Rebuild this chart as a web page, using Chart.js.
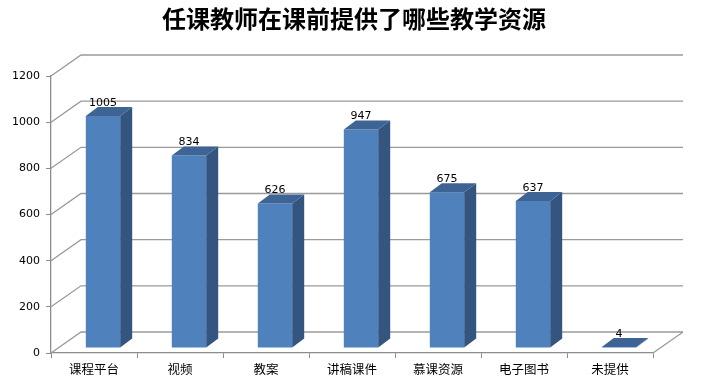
<!DOCTYPE html>
<html>
<head>
<meta charset="utf-8">
<script src="https://cdn.jsdelivr.net/npm/chart.js@4/dist/chart.umd.min.js"></script>
<style>
  html, body { margin: 0; padding: 0; background: #fff; }
  #wrap { width: 708px; height: 381px; }
</style>
</head>
<body>
<div id="wrap"><canvas id="grafico"></canvas></div>
<script>
const categorias = ["课程平台", "视频", "教案", "讲稿课件", "慕课资源", "电子图书", "未提供"];
const valores = [1005, 834, 626, 947, 675, 637, 4];
const titulo = "任课教师在课前提供了哪些教学资源";

// profundidade do "3D" (parede de fundo) e deslocamento das barras
const fundo = { dx: 30, dy: -21 };
const barraDesloc = { dx: 9, dy: -5 };
const lado = { dx: 12, dy: -9 };

const efeito3d = {
  id: "efeito3d",
  beforeDatasetsDraw(chart) {
    const { ctx, chartArea } = chart;
    const y = chart.scales.y;
    ctx.save();
    ctx.strokeStyle = "#9a9a9a";
    ctx.lineWidth = 1.3;
    y.ticks.forEach((t) => {
      const py = y.getPixelForValue(t.value);
      ctx.beginPath();
      ctx.moveTo(chartArea.left, py);
      ctx.lineTo(chartArea.left + fundo.dx, py + fundo.dy);
      ctx.lineTo(chartArea.right + fundo.dx, py + fundo.dy);
      ctx.stroke();
    });
    // borda direita do chão
    ctx.beginPath();
    ctx.moveTo(chartArea.right, chartArea.bottom);
    ctx.lineTo(chartArea.right + fundo.dx, chartArea.bottom + fundo.dy);
    ctx.stroke();
    ctx.restore();
  },
  beforeDatasetDraw(chart) {
    chart.ctx.save();
    chart.ctx.translate(barraDesloc.dx, barraDesloc.dy);
  },
  afterDatasetDraw(chart, args) {
    const { ctx } = chart;
    const meta = args.meta;
    meta.data.forEach((bar, i) => {
      const p = bar.getProps(["x", "y", "base", "width"], true);
      const l = p.x - p.width / 2;
      const r = p.x + p.width / 2;
      // lado
      ctx.fillStyle = "#34557f";
      ctx.beginPath();
      ctx.moveTo(r, p.y);
      ctx.lineTo(r + lado.dx, p.y + lado.dy);
      ctx.lineTo(r + lado.dx, p.base + lado.dy);
      ctx.lineTo(r, p.base);
      ctx.closePath();
      ctx.fill();
      // topo
      ctx.fillStyle = "#3e6496";
      ctx.beginPath();
      ctx.moveTo(l, p.y);
      ctx.lineTo(l + lado.dx, p.y + lado.dy);
      ctx.lineTo(r + lado.dx, p.y + lado.dy);
      ctx.lineTo(r, p.y);
      ctx.closePath();
      ctx.fill();
      // rótulo
      ctx.fillStyle = "#000";
      ctx.font = "11px 'DejaVu Sans'";
      ctx.textAlign = "center";
      ctx.textBaseline = "alphabetic";
      ctx.fillText(valores[i], p.x, p.y - 10);
    });
    ctx.restore();
  },
  afterDraw(chart) {
    // título centrado na largura toda do canvas
    const { ctx } = chart;
    ctx.save();
    ctx.fillStyle = "#000";
    ctx.font = "bold 24px 'Noto Sans CJK SC'";
    ctx.textAlign = "center";
    ctx.textBaseline = "middle";
    ctx.fillText(titulo, chart.width / 2, 19);
    ctx.restore();
  },
};

new Chart(document.getElementById("grafico"), {
  type: "bar",
  data: {
    labels: categorias,
    datasets: [
      {
        data: valores,
        backgroundColor: "#4f81bd",
        borderWidth: 0,
        barPercentage: 0.4,
        categoryPercentage: 1,
      },
    ],
  },
  options: {
    responsive: true,
    maintainAspectRatio: false,
    animation: false,
    layout: { padding: { left: 0, right: 55, top: 76, bottom: 0 } },
    plugins: {
      legend: { display: false },
      tooltip: { enabled: false },
      title: { display: false },
    },
    scales: {
      x: {
        grid: { drawOnChartArea: false, tickLength: 5, color: "#8c8c8c", offset: true },
        border: { display: true, color: "#8c8c8c", width: 1.3 },
        ticks: {
          color: "#000",
          padding: 4,
          font: { family: "'Noto Sans CJK SC'", size: 12.5 },
          maxRotation: 0,
        },
        afterFit(scale) {
          scale.height = 28;
        },
      },
      y: {
        min: 0,
        max: 1200,
        ticks: {
          stepSize: 200,
          color: "#000",
          padding: 6,
          font: { family: "'DejaVu Sans'", size: 11 },
          callback: (v) => String(v),
        },
        grid: { drawOnChartArea: false, tickLength: 5, color: "#8c8c8c" },
        border: { display: true, color: "#8c8c8c", width: 1.3 },
        afterFit(scale) {
          scale.width = 51;
        },
      },
    },
  },
  plugins: [efeito3d],
});
</script>
</body>
</html>
